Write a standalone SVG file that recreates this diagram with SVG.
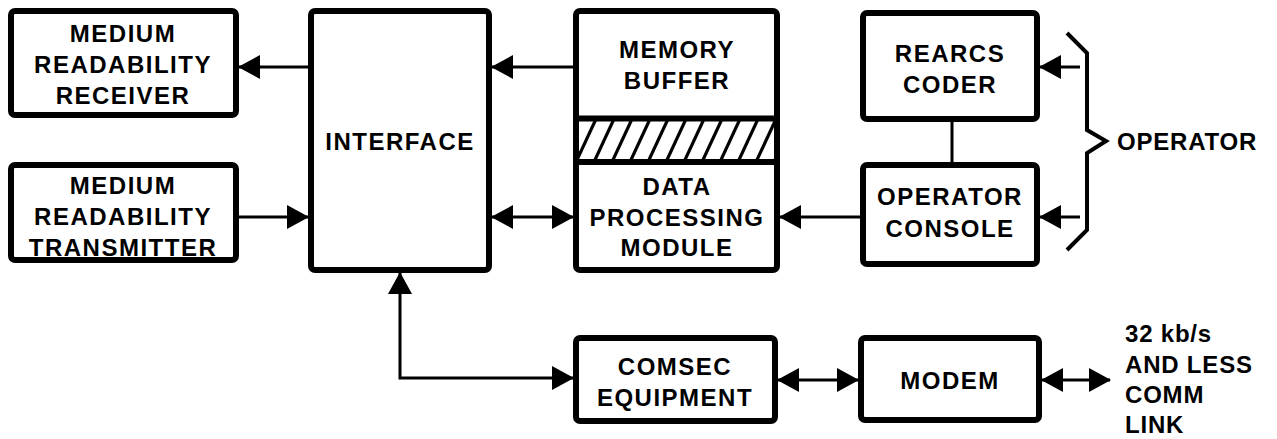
<svg xmlns="http://www.w3.org/2000/svg" width="1277" height="439" viewBox="0 0 1277 439">
  <style>
    .box { fill: #fff; stroke: #000; stroke-width: 6; }
    .lbl { font-family: "Liberation Sans", Arial, sans-serif; font-weight: bold; font-size: 24px; letter-spacing: 1.5px; fill: #000; text-anchor: middle; }
    .lft { text-anchor: start; letter-spacing: 0.8px; }
    .wire { fill: none; stroke: #000; stroke-width: 3; }
    .a1 { marker-end: url(#head); }
    .a2 { marker-start: url(#head); marker-end: url(#head); }
    .hatch { stroke: #000; stroke-width: 3.2; }
  </style>
  <defs>
    <marker id="head" markerUnits="userSpaceOnUse" markerWidth="22" markerHeight="24" viewBox="0 0 22 24" refX="21" refY="12" orient="auto-start-reverse">
      <path d="M0,0 L22,12 L0,24 Z" fill="#000"/>
    </marker>
    <clipPath id="band">
      <rect x="576" y="121" width="201" height="39"/>
    </clipPath>
  </defs>

  <!-- connectors -->
  <g id="connectors">
    <line class="wire a1" x1="309" y1="67" x2="239" y2="67"/>
    <line class="wire a1" x1="239" y1="217" x2="308" y2="217"/>
    <line class="wire a1" x1="573" y1="67" x2="492" y2="67"/>
    <line class="wire a2" x1="492" y1="217" x2="573" y2="217"/>
    <line class="wire a1" x1="860" y1="217" x2="780" y2="217"/>
    <line class="wire" x1="952" y1="122" x2="952" y2="162"/>
    <line class="wire a1" x1="1080" y1="67" x2="1040" y2="67"/>
    <line class="wire a1" x1="1080" y1="217" x2="1040" y2="217"/>
    <path class="wire a2" d="M573,378 H400 V273"/>
    <line class="wire a2" x1="778" y1="380" x2="858" y2="380"/>
    <line class="wire a2" x1="1042" y1="380" x2="1110" y2="380"/>
    <!-- brace grouping the operator inputs -->
    <polyline fill="none" stroke="#000" stroke-width="4" points="1067,33 1087,53 1087,130 1106,141 1087,153 1087,230 1067,250"/>
  </g>

  <g id="receiver">
    <rect class="box" x="11" y="11" width="225" height="104" rx="4"/>
    <text class="lbl" x="123" y="42">MEDIUM</text>
    <text class="lbl" x="123" y="73">READABILITY</text>
    <text class="lbl" x="123" y="104">RECEIVER</text>
  </g>

  <g id="transmitter">
    <rect class="box" x="11" y="165" width="225" height="95" rx="4"/>
    <text class="lbl" x="123" y="194">MEDIUM</text>
    <text class="lbl" x="123" y="225">READABILITY</text>
    <text class="lbl" x="123" y="256">TRANSMITTER</text>
  </g>

  <g id="interface">
    <rect class="box" x="311" y="11" width="178" height="259" rx="4"/>
    <text class="lbl" x="400" y="150">INTERFACE</text>
  </g>

  <g id="memory-dpm">
    <rect class="box" x="576" y="11" width="201" height="259" rx="4"/>
    <g clip-path="url(#band)">
      <line class="hatch" x1="558" y1="162" x2="578" y2="119"/>
      <line class="hatch" x1="576" y1="162" x2="596" y2="119"/>
      <line class="hatch" x1="594" y1="162" x2="614" y2="119"/>
      <line class="hatch" x1="612" y1="162" x2="632" y2="119"/>
      <line class="hatch" x1="630" y1="162" x2="650" y2="119"/>
      <line class="hatch" x1="648" y1="162" x2="668" y2="119"/>
      <line class="hatch" x1="666" y1="162" x2="686" y2="119"/>
      <line class="hatch" x1="684" y1="162" x2="704" y2="119"/>
      <line class="hatch" x1="702" y1="162" x2="722" y2="119"/>
      <line class="hatch" x1="720" y1="162" x2="740" y2="119"/>
      <line class="hatch" x1="738" y1="162" x2="758" y2="119"/>
      <line class="hatch" x1="756" y1="162" x2="776" y2="119"/>
      <line class="hatch" x1="774" y1="162" x2="794" y2="119"/>
    </g>
    <line x1="573" y1="118.5" x2="780" y2="118.5" stroke="#000" stroke-width="6"/>
    <line x1="573" y1="162" x2="780" y2="162" stroke="#000" stroke-width="6"/>
    <text class="lbl" x="677" y="58">MEMORY</text>
    <text class="lbl" x="677" y="89">BUFFER</text>
    <text class="lbl" x="677" y="195">DATA</text>
    <text class="lbl" x="677" y="226">PROCESSING</text>
    <text class="lbl" x="677" y="256">MODULE</text>
  </g>

  <g id="rearcs-coder">
    <rect class="box" x="863" y="13" width="174" height="106" rx="4"/>
    <text class="lbl" x="950" y="62">REARCS</text>
    <text class="lbl" x="950" y="93">CODER</text>
  </g>

  <g id="operator-console">
    <rect class="box" x="863" y="165" width="174" height="99" rx="4"/>
    <text class="lbl" x="950" y="205">OPERATOR</text>
    <text class="lbl" x="950" y="237">CONSOLE</text>
  </g>

  <g id="operator">
    <text class="lbl lft" x="1117" y="150">OPERATOR</text>
  </g>

  <g id="comsec">
    <rect class="box" x="576" y="338" width="199" height="83" rx="4"/>
    <text class="lbl" x="675" y="375">COMSEC</text>
    <text class="lbl" x="675" y="406">EQUIPMENT</text>
  </g>

  <g id="modem">
    <rect class="box" x="861" y="338" width="178" height="82" rx="4"/>
    <text class="lbl" x="950" y="389">MODEM</text>
  </g>

  <g id="comm-link">
    <text class="lbl lft" x="1125" y="342">32 kb/s</text>
    <text class="lbl lft" x="1125" y="373">AND LESS</text>
    <text class="lbl lft" x="1125" y="403">COMM</text>
    <text class="lbl lft" x="1125" y="433">LINK</text>
  </g>
</svg>
